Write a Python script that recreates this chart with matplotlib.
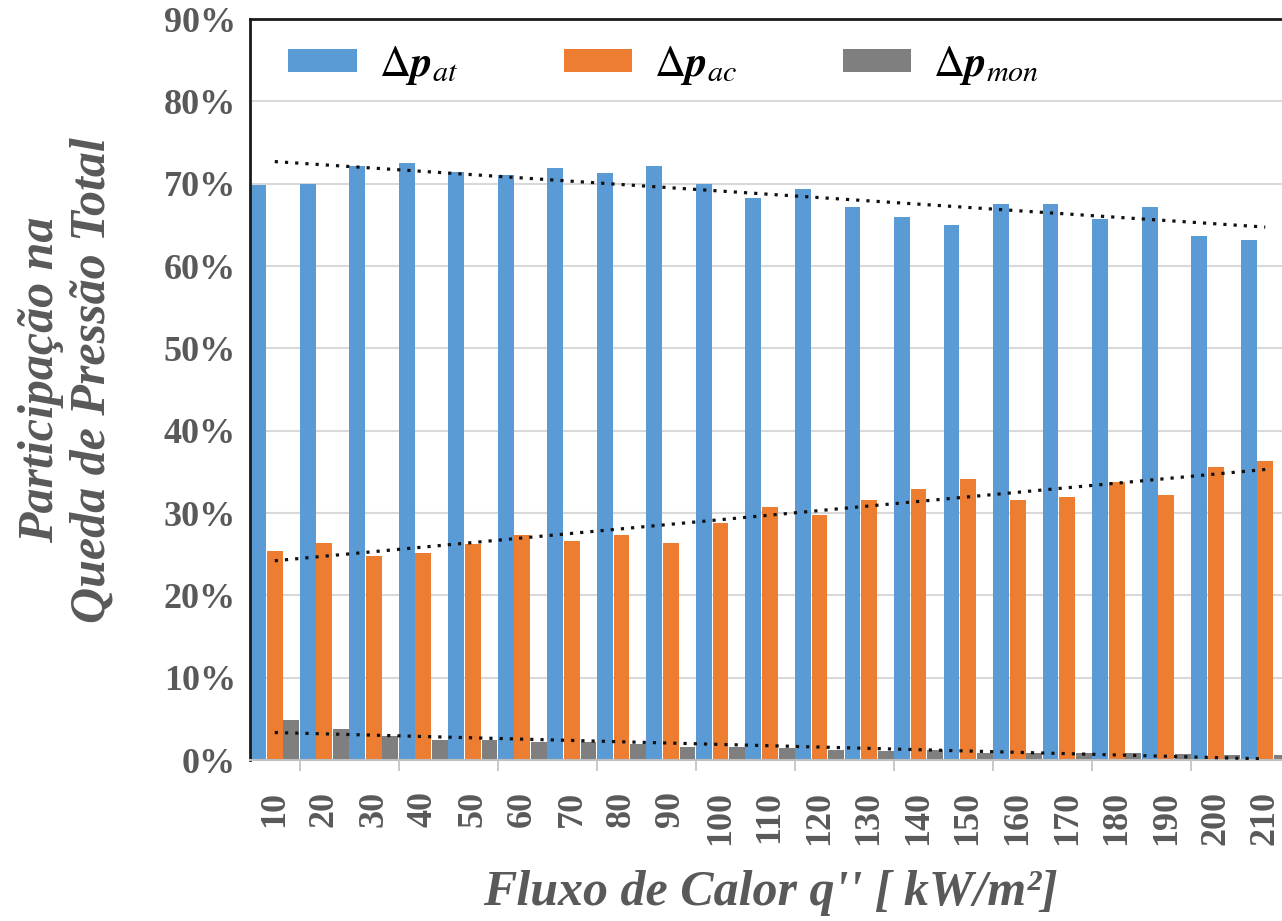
import numpy as np
import matplotlib
matplotlib.use("Agg")
import matplotlib.pyplot as plt
from matplotlib.patches import Patch
from matplotlib.ticker import FixedLocator, PercentFormatter

# Heat flux levels [kW/m2]
heat_flux = [10, 20, 30, 40, 50, 60, 70, 80, 90, 100, 110,
             120, 130, 140, 150, 160, 170, 180, 190, 200, 210]

# Share of each component in the total pressure drop [%]
dp_at = [69.8, 70.0, 72.2, 72.5, 71.4, 71.0, 71.9, 71.3, 72.2, 70.0, 68.2,
         69.4, 67.2, 66.0, 65.0, 67.5, 67.5, 65.7, 67.2, 63.7, 63.1]
dp_ac = [25.4, 26.3, 24.8, 25.1, 26.2, 27.3, 26.6, 27.3, 26.3, 28.8, 30.7,
         29.8, 31.6, 32.9, 34.1, 31.6, 31.9, 33.8, 32.2, 35.6, 36.3]
dp_mon = [4.8, 3.8, 2.9, 2.4, 2.4, 2.2, 2.2, 2.0, 1.6, 1.6, 1.5,
          1.2, 1.1, 1.2, 0.9, 0.9, 0.9, 0.9, 0.7, 0.6, 0.6]

series_labels = [r"$\Delta\mathbfit{p}_{at}$",
                 r"$\Delta\mathbfit{p}_{ac}$",
                 r"$\Delta\mathbfit{p}_{mon}$"]
series_colors = ["#5B9BD5", "#ED7D31", "#7F7F7F"]

plt.rcParams["mathtext.fontset"] = "stix"
serif = ["Liberation Serif", "DejaVu Serif"]
text_gray = "#595959"

W, H = 1282, 921
fig = plt.figure(figsize=(W / 100, H / 100), dpi=100)
fig.patch.set_facecolor("white")

left_px, right_px, top_px, bottom_px = 250, 1290, 19, 760
ax = fig.add_axes([left_px / W, 1 - bottom_px / H,
                   (right_px - left_px) / W, (bottom_px - top_px) / H])

x = np.arange(len(heat_flux))
width = 0.32
offsets = [-0.335, 0.0, 0.335]
all_series = [dp_at, dp_ac, dp_mon]

for vals, off, col, lab in zip(all_series, offsets, series_colors, series_labels):
    ax.bar(x + off, vals, width=width, color=col, label=lab, zorder=2)

# Linear trend lines through each series
for vals in all_series:
    k, b = np.polyfit(x, vals, 1)
    ax.plot(x, k * x + b, color="#111111", lw=2.3,
            linestyle=(0, (1, 2.2)), zorder=3)

ax.set_xlim(-0.5, 20.5)
ax.set_ylim(0, 90)

ax.yaxis.set_major_locator(FixedLocator(np.arange(0, 91, 10)))
ax.yaxis.set_major_formatter(PercentFormatter(decimals=0))
ax.grid(axis="y", color="#D9D9D9", lw=1.5, zorder=0)
ax.set_axisbelow(True)

ax.set_xticks(x)
ax.set_xticklabels([str(v) for v in heat_flux], rotation=90)
ax.set_xticks(np.arange(0.5, 20.6, 2.0), minor=True)
ax.tick_params(axis="x", which="major", length=0, pad=22)
ax.tick_params(axis="x", which="minor", length=8, width=1.2, color="#BFBFBF")
ax.tick_params(axis="y", length=0, pad=10)

for lbl in ax.get_xticklabels() + ax.get_yticklabels():
    lbl.set_family(serif)
    lbl.set_fontweight("bold")
    lbl.set_fontsize(26)
    lbl.set_color(text_gray)

for s in ("left", "top", "right"):
    ax.spines[s].set_color("#1a1a1a")
    ax.spines[s].set_linewidth(2)
ax.spines["bottom"].set_color("#BFBFBF")
ax.spines["bottom"].set_linewidth(1.5)

ax.set_xlabel("Fluxo de Calor q'' [ kW/m²]", family=serif, fontsize=36,
              fontweight="bold", style="italic", color=text_gray, labelpad=18)

fig.text(67 / W, 1 - 380 / H, "Participação na\nQueda de Pressão Total",
         rotation=90, ha="center", va="center", multialignment="center",
         family=serif, fontsize=36, fontweight="bold", style="italic",
         color=text_gray, linespacing=1.15)

handles = [Patch(facecolor=c) for c in series_colors]
ax.legend(handles, series_labels, ncol=3, frameon=False, fontsize=31,
          loc="center left", bbox_to_anchor=(0.037, 0.938),
          handlelength=1.6, handleheight=0.46, handletextpad=0.5,
          columnspacing=2.45, borderpad=0.0, borderaxespad=0.0)

fig.savefig("out.png", dpi=100, facecolor="white")
